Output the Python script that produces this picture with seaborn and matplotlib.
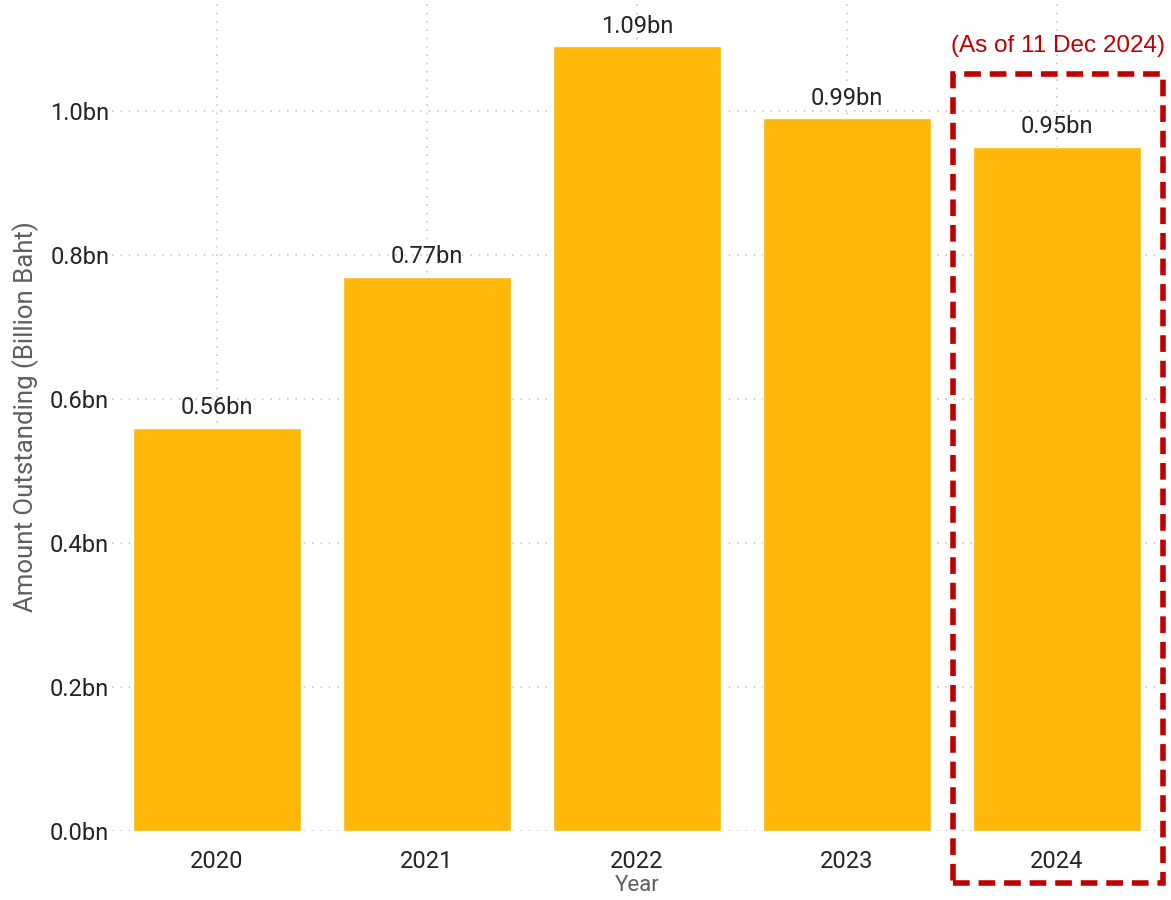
import pandas as pd
import matplotlib.pyplot as plt
import seaborn as sns
from matplotlib.patches import Rectangle

# Data
years = ['2020', '2021', '2022', '2023', '2024']
amounts = [0.56, 0.77, 1.09, 0.99, 0.95]
bar_labels = ['0.56bn', '0.77bn', '1.09bn', '0.99bn', '0.95bn']
note_text = '(As of 11 Dec 2024)'

df = pd.DataFrame({'Year': years, 'Amount': amounts})

sns.set_style('white')
plt.rcParams['font.family'] = ['Roboto', 'DejaVu Sans']

fig = plt.figure(figsize=(11.71, 9), dpi=100)
ax = fig.add_axes([0.0956, 0.0767, 0.8964, 0.92])

sns.barplot(data=df, x='Year', y='Amount', color='#FFB80A', width=0.8,
            saturation=1, ax=ax, zorder=2)

ax.set_ylim(0, 1.15)
ax.set_xlim(-0.5, 4.5)
ax.set_yticks([0, 0.2, 0.4, 0.6, 0.8, 1.0])
ax.set_yticklabels(['0.0bn', '0.2bn', '0.4bn', '0.6bn', '0.8bn', '1.0bn'])
ax.grid(True, axis='both', linestyle=(0, (1, 4)), color='#C8C8C8', linewidth=1.2, zorder=0)
ax.set_axisbelow(True)
sns.despine(ax=ax, left=True, bottom=True)
ax.tick_params(axis='y', length=0, labelsize=17, labelcolor='#252423', pad=2)
ax.tick_params(axis='x', length=0, labelsize=17, labelcolor='#252423', pad=14)

# value labels
for i, (v, lab) in enumerate(zip(amounts, bar_labels)):
    ax.text(i, v + 0.012, lab, ha='center', va='bottom', fontsize=17, color='#252423')

ax.set_xlabel('Year', fontsize=16, color='#605E5C', labelpad=1)
ax.set_ylabel('Amount Outstanding (Billion Baht)', fontsize=18.5, color='#605E5C', labelpad=8)

# highlight box for latest year
rect = Rectangle((3.505, -0.072), 1.0, 1.123, fill=False, edgecolor='#C00000',
                 linewidth=4, linestyle=(0, (3, 1.6)), clip_on=False, zorder=5)
ax.add_patch(rect)
ax.text(4.005, 1.09, note_text, ha='center', va='center', fontsize=17.5,
        color='#C00000', family=['Liberation Sans', 'DejaVu Sans'])

fig.savefig('out.png', dpi=100)
